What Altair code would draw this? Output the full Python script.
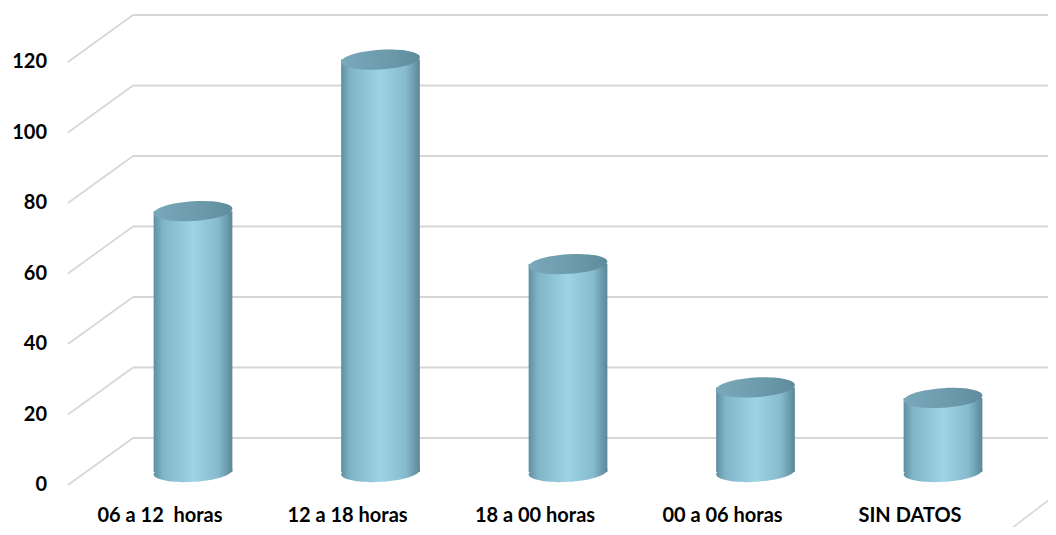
import altair as alt
import pandas as pd

categories = ["06 a 12\u00a0 horas", "12 a 18 horas", "18 a 00 horas", "00 a 06 horas", "SIN DATOS"]
values = [74, 117, 59, 24, 21]
ticks = [0, 20, 40, 60, 80, 100, 120]

bars_df = pd.DataFrame({"cat": categories, "val": values})
ticks_df = pd.DataFrame({"tick": ticks})

FONT = "Lato"
GRID = "#d6d6d6"
DEPTH_Y = -47   # back wall offset (px)
DEPTH_X = 65
BAR_Y = -13     # bar depth offset

xs = alt.Scale(domain=categories, range=[31.25, 968.75], paddingInner=0.58, paddingOuter=0.29)
ys = alt.Scale(domain=[0, 120], range=[477, 54], nice=False, zero=False)

body_grad = alt.Gradient(
    gradient="linear", x1=0, x2=1, y1=0, y2=0,
    stops=[
        alt.GradientStop(color="#5f8fa0", offset=0),
        alt.GradientStop(color="#80b5c7", offset=0.12),
        alt.GradientStop(color="#9ed2e5", offset=0.5),
        alt.GradientStop(color="#86bbcd", offset=0.82),
        alt.GradientStop(color="#5a8797", offset=1),
    ],
)
top_grad = alt.Gradient(
    gradient="linear", x1=0, x2=1, y1=0, y2=0,
    stops=[
        alt.GradientStop(color="#78a8b9", offset=0),
        alt.GradientStop(color="#6b9aab", offset=0.6),
        alt.GradientStop(color="#5f8c9c", offset=1),
    ],
)

# sheared ellipse path (oblique projection of a circle)
b, k, c = 0.25, -0.06, 0.5523
def p(x, y):
    return f"{x:.4f},{b*y + k*x:.4f}"
ell = (f"M{p(1,0)} C{p(1,c)} {p(c,1)} {p(0,1)} C{p(-c,1)} {p(-1,c)} {p(-1,0)} "
       f"C{p(-1,-c)} {p(-c,-1)} {p(0,-1)} C{p(c,-1)} {p(1,-c)} {p(1,0)} Z")
SIZE = 78.75 ** 2

base = alt.Chart(ticks_df)

back_lines = base.mark_rule(color=GRID, strokeWidth=2, yOffset=DEPTH_Y).encode(
    x=alt.value(DEPTH_X), x2=alt.value(980),
    y=alt.Y("tick:Q", scale=ys, axis=None),
)
diag_lines = base.mark_rule(color=GRID, strokeWidth=1.6, y2Offset=DEPTH_Y).encode(
    x=alt.value(0), x2=alt.value(DEPTH_X),
    y=alt.Y("tick:Q", scale=ys, axis=None),
    y2=alt.Y2("tick:Q"),
)
right_edge = base.transform_filter(alt.datum.tick == 0).mark_rule(
    color=GRID, strokeWidth=1.6, yOffset=50, y2Offset=14
).encode(
    x=alt.value(935), x2=alt.value(982),
    y=alt.Y("tick:Q", scale=ys, axis=None),
    y2=alt.Y2("tick:Q"),
)
y_labels = base.mark_text(
    font=FONT, fontSize=20, fontWeight="bold", color="#000000",
    align="right", baseline="middle",
).encode(
    x=alt.value(-21),
    y=alt.Y("tick:Q", scale=ys, axis=None),
    text=alt.Text("tick:Q"),
)

bb = alt.Chart(bars_df).transform_calculate(zero="0")
bottom_ell = bb.mark_point(
    shape=ell, filled=True, fill=body_grad, opacity=1, strokeWidth=0, size=SIZE, yOffset=BAR_Y
).encode(
    x=alt.X("cat:N", scale=xs, axis=None, sort=categories),
    y=alt.Y("zero:Q", scale=ys, axis=None),
)
body = bb.mark_bar(fill=body_grad, yOffset=BAR_Y, y2Offset=BAR_Y).encode(
    x=alt.X("cat:N", scale=xs, axis=None, sort=categories),
    y=alt.Y("val:Q", scale=ys, axis=None),
    y2=alt.Y2("zero:Q"),
)
top_ell = bb.mark_point(
    shape=ell, filled=True, fill=top_grad, opacity=1, strokeWidth=0, size=SIZE, yOffset=BAR_Y
).encode(
    x=alt.X("cat:N", scale=xs, axis=None, sort=categories),
    y=alt.Y("val:Q", scale=ys, axis=None),
)
x_labels = bb.mark_text(
    font=FONT, fontSize=20, fontWeight="bold", color="#000000",
    align="center", baseline="middle", xOffset=-33,
).encode(
    x=alt.X("cat:N", scale=xs, axis=None, sort=categories),
    y=alt.value(508),
    text="cat:N",
)

chart = alt.layer(
    back_lines, diag_lines, right_edge, y_labels, bottom_ell, body, top_ell, x_labels
).properties(
    width=980, height=519,
    padding={"left": 60, "top": 0, "right": 0, "bottom": 0},
    autosize=alt.AutoSizeParams(type="none"),
    background="#ffffff",
).configure_view(stroke=None)

chart.save("out.html", embed_options={"renderer": "svg", "actions": False})
